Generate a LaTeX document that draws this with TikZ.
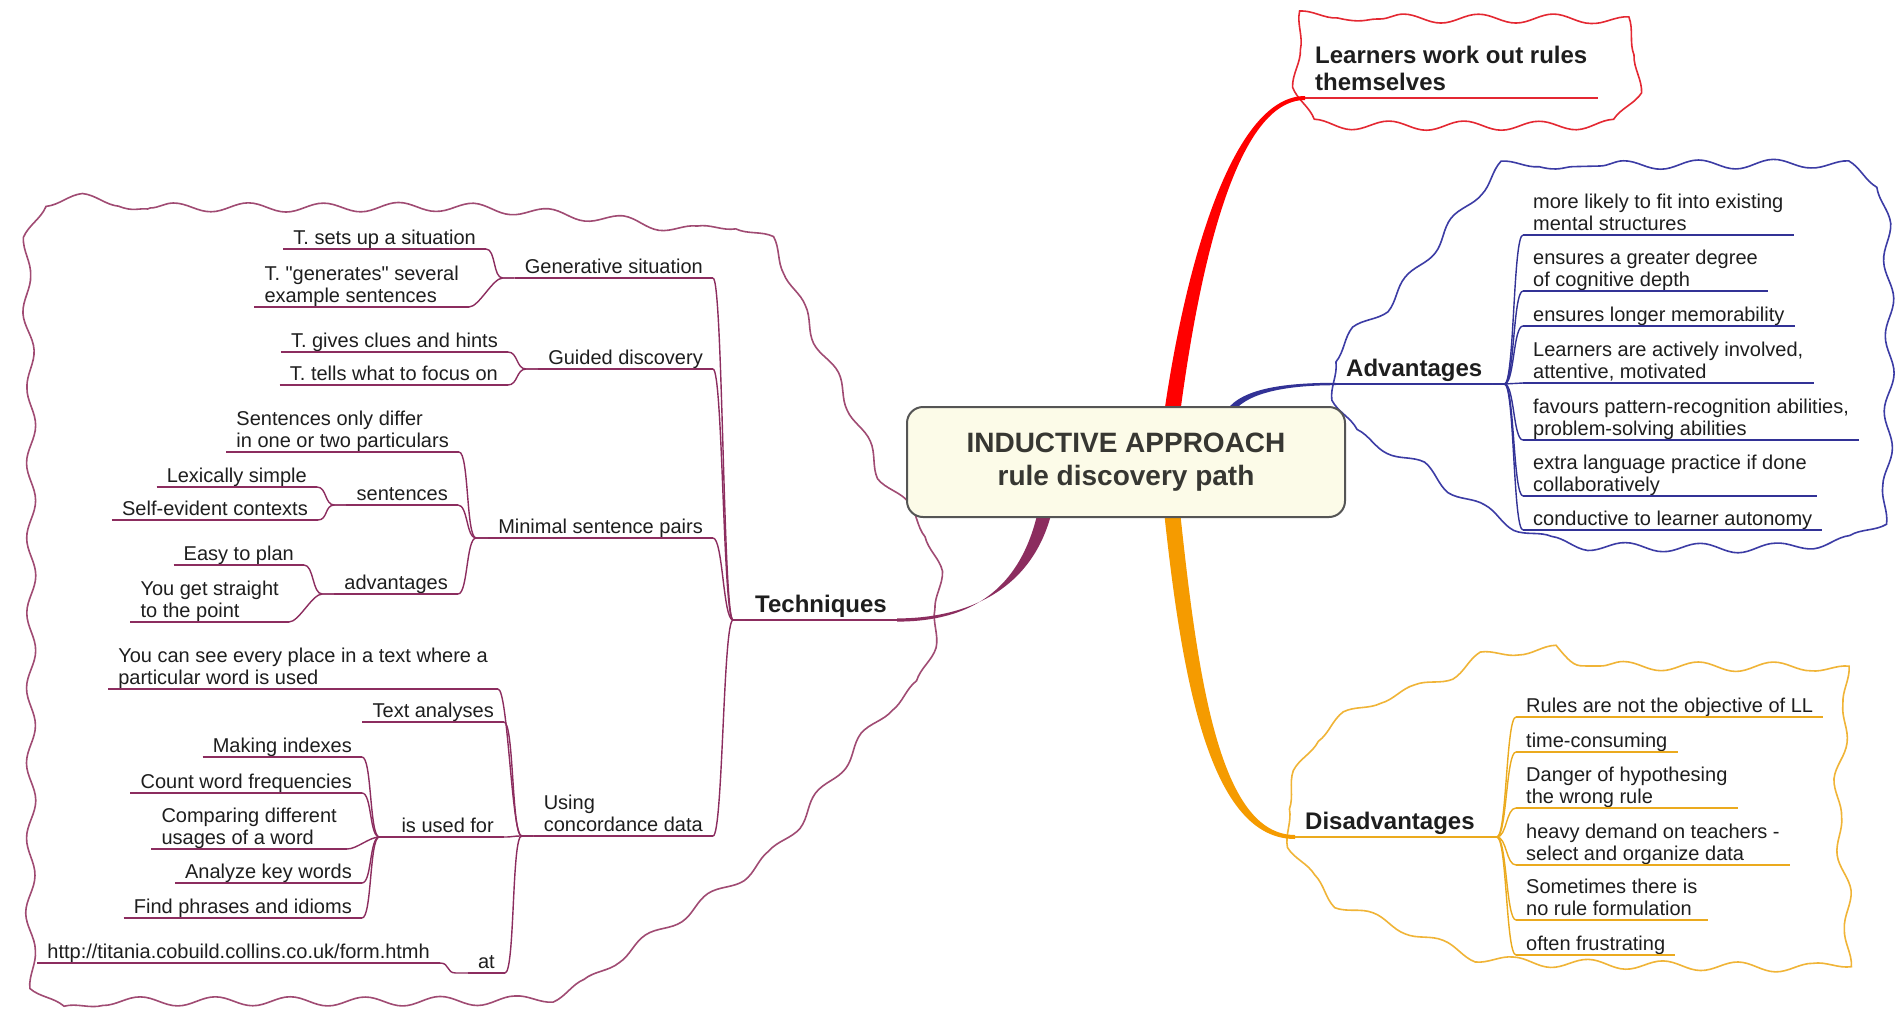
\documentclass[tikz,border=0pt]{standalone}
\usepackage{fontspec}
\setmainfont{Liberation Sans}
\newfontfamily\lsans{Liberation Sans}
\usetikzlibrary{calc,decorations.pathmorphing,backgrounds}
\definecolor{purp}{RGB}{140,45,95}
\definecolor{purpc}{RGB}{160,75,115}
\definecolor{bluel}{RGB}{50,50,150}
\definecolor{bluec}{RGB}{60,60,165}
\definecolor{orgb}{RGB}{245,155,0}
\definecolor{orgl}{RGB}{235,170,30}
\definecolor{orgc}{RGB}{240,180,55}
\definecolor{redb}{RGB}{255,0,0}
\definecolor{redc}{RGB}{228,40,50}
\definecolor{txt}{RGB}{30,30,30}
\definecolor{cream}{RGB}{252,251,232}
\definecolor{rootline}{RGB}{85,85,85}
\newcommand{\linkL}[3]{\draw[#3] (#1.south east) .. controls +(10,0) and +(-10,0) .. ([xshift=-12pt]#2.south west) -- (#2.south west);}
\newcommand{\linkR}[3]{\draw[#3] (#1.south east) -- ([xshift=12pt]#1.south east) .. controls +(10,0) and +(-10,0) .. (#2.south west);}
\begin{document}
\begin{tikzpicture}[x=1pt,y=-1pt,
  lf/.style={font=\lsans\fontsize{20}{21.5}\selectfont, text=txt, align=left, inner xsep=10pt, inner ysep=0pt, execute at end node={\rule[-4.5pt]{0pt}{4.5pt}}},
  lfL/.style={lf, anchor=south east},
  lfR/.style={lf, anchor=south west},
  bd/.style={font=\lsans\fontsize{24}{27}\selectfont\bfseries, text=txt, align=left, inner xsep=10pt, inner ysep=0pt, execute at end node={\rule[-7pt]{0pt}{7pt}}},
  rootst/.style={draw=rootline, fill=cream, rounded corners=16pt, line width=2pt, minimum width=438pt, minimum height=110pt, align=center, font=\lsans\fontsize{28}{33}\selectfont\bfseries, text={rgb,255:red,55;green,55;blue,50}},
  cloudst/.style={decorate, decoration={snake, amplitude=4.5pt, segment length=75pt}, line width=1.6pt},
  pl/.style={draw=purp, line width=1.4pt},
  bl/.style={draw=bluel, line width=1.4pt},
  ol/.style={draw=orgl, line width=1.4pt},
  rl/.style={draw=redc, line width=1.4pt}]
\useasboundingbox (0,0) rectangle (1898,1010);

% central node
\node[rootst] (root) at (1126,462) {INDUCTIVE APPROACH\\rule discovery path};

% red topic
\node[bd, anchor=south west] (lrn) at (1305,98) {Learners work out rules\\themselves};

% Techniques
\node[bd, anchor=south east] (tech) at (897,620) {Techniques};
\node[lfL] (gen) at (713,278) {Generative situation};
\node[lfL] (gen1) at (486,249) {T. sets up a situation};
\node[lfL] (gen2) at (469,307) {T. "generates" several\\example sentences};
\node[lfL] (gui) at (713,369) {Guided discovery};
\node[lfL] (gui1) at (508,352) {T. gives clues and hints};
\node[lfL] (gui2) at (508,385) {T. tells what to focus on};
\node[lfL] (min) at (713,538) {Minimal sentence pairs};
\node[lfL] (min1) at (459,452) {Sentences only differ\\in one or two particulars};
\node[lfL] (sen) at (458,505) {sentences};
\node[lfL] (sen1) at (317,487) {Lexically simple};
\node[lfL] (sen2) at (318,520) {Self-evident contexts};
\node[lfL] (adv) at (458,594) {advantages};
\node[lfL] (adv1) at (304,565) {Easy to plan};
\node[lfL] (adv2) at (289,622) {You get straight\\to the point};
\node[lfL] (use) at (713,836) {Using\\concordance data};
\node[lfL] (use1) at (498,689) {You can see every place in a text where a\\particular word is used};
\node[lfL] (use2) at (504,722) {Text analyses};
\node[lfL] (use3) at (504,837) {is used for};
\node[lfL] (use4) at (505,973) {at};
\node[lfL] (iuf1) at (362,757) {Making indexes};
\node[lfL] (iuf2) at (362,793) {Count word frequencies};
\node[lfL] (iuf3) at (347,849) {Comparing different\\usages of a word};
\node[lfL] (iuf4) at (362,883) {Analyze key words};
\node[lfL] (iuf5) at (362,918) {Find phrases and idioms};
\node[lfL] (at1) at (440,963) {http://titania.cobuild.collins.co.uk/form.htmh};

% Advantages
\node[bd, anchor=south west] (advs) at (1336,384) {Advantages};
\node[lfR] (a1) at (1523,235) {more likely to fit into existing\\mental structures};
\node[lfR] (a2) at (1523,291) {ensures a greater degree\\of cognitive depth};
\node[lfR] (a3) at (1523,326) {ensures longer memorability};
\node[lfR] (a4) at (1523,383) {Learners are actively involved,\\attentive, motivated};
\node[lfR] (a5) at (1523,440) {favours pattern-recognition abilities,\\problem-solving abilities};
\node[lfR] (a6) at (1523,496) {extra language practice if done\\collaboratively};
\node[lfR] (a7) at (1523,530) {conductive to learner autonomy};

% Disadvantages
\node[bd, anchor=south west] (dis) at (1295,837) {Disadvantages};
\node[lfR] (d1) at (1516,717) {Rules are not the objective of LL};
\node[lfR] (d2) at (1516,752) {time-consuming};
\node[lfR] (d3) at (1516,808) {Danger of hypothesing\\the wrong rule};
\node[lfR] (d4) at (1516,865) {heavy demand on teachers -\\select and organize data};
\node[lfR] (d5) at (1516,920) {Sometimes there is\\no rule formulation};
\node[lfR] (d6) at (1516,955) {often frustrating};

% connectors: Techniques
\linkL{gen}{tech}{pl} \linkL{gui}{tech}{pl} \linkL{min}{tech}{pl} \linkL{use}{tech}{pl}
\linkL{gen1}{gen}{pl} \linkL{gen2}{gen}{pl}
\linkL{gui1}{gui}{pl} \linkL{gui2}{gui}{pl}
\linkL{min1}{min}{pl} \linkL{sen}{min}{pl} \linkL{adv}{min}{pl}
\linkL{sen1}{sen}{pl} \linkL{sen2}{sen}{pl}
\linkL{adv1}{adv}{pl} \linkL{adv2}{adv}{pl}
\linkL{use1}{use}{pl} \linkL{use2}{use}{pl} \linkL{use3}{use}{pl} \linkL{use4}{use}{pl}
\linkL{iuf1}{use3}{pl} \linkL{iuf2}{use3}{pl} \linkL{iuf3}{use3}{pl} \linkL{iuf4}{use3}{pl} \linkL{iuf5}{use3}{pl}
\linkL{at1}{use4}{pl}
\foreach \n in {tech,gen,gen1,gen2,gui,gui1,gui2,min,min1,sen,sen1,sen2,adv,adv1,adv2,use,use1,use2,use3,use4,iuf1,iuf2,iuf3,iuf4,iuf5,at1}
  \draw[pl] (\n.south west) -- (\n.south east);

% connectors: Advantages
\foreach \n in {a1,a2,a3,a4,a5,a6,a7} {
  \linkR{advs}{\n}{bl}
  \draw[bl] (\n.south west) -- (\n.south east);
}
\draw[bl] (advs.south west) -- (advs.south east);

% connectors: Disadvantages
\foreach \n in {d1,d2,d3,d4,d5,d6} {
  \linkR{dis}{\n}{ol}
  \draw[ol] (\n.south west) -- (\n.south east);
}
\draw[ol] (dis.south west) -- (dis.south east);

% red underline
\draw[rl] (lrn.south west) -- (lrn.south east);

\begin{pgfonlayer}{background}
\fill[white] (0,0) rectangle (1898,1010);
% clouds
\draw[cloudst, draw=purpc] plot[smooth cycle, tension=0.5] coordinates {(22,214) (150,208) (300,208) (450,208) (597,220) (670,230) (720,226) (758,250) (788,320) (828,400) (866,483) (905,530) (918,600) (897,685) (860,716) (805,787) (751,853) (679,903) (609,949) (540,993) (400,998) (250,998) (100,998) (24,995) (18,800) (18,600) (18,400)};
\draw[cloudst, draw=bluec] plot[smooth cycle, tension=0.5] coordinates {(1495,172) (1600,166) (1720,165) (1825,166) (1860,190) (1868,300) (1867,420) (1856,530) (1770,550) (1660,551) (1540,546) (1451,505) (1393,462) (1337,434) (1314,379) (1337,340) (1375,308) (1420,252) (1465,196)};
\draw[cloudst, draw=orgc] plot[smooth cycle, tension=0.5] coordinates {(1501,667) (1600,666) (1720,667) (1822,670) (1835,710) (1828,770) (1826,827) (1835,900) (1836,960) (1820,980) (1720,980) (1600,978) (1501,975) (1455,968) (1386,940) (1318,913) (1285,873) (1269,832) (1299,757) (1354,720) (1419,700) (1455,677)};
\draw[cloudst, draw=redc] plot[smooth cycle, tension=0.5] coordinates {(1298,22) (1380,19) (1460,19) (1540,19) (1606,22) (1622,40) (1626,70) (1622,100) (1606,118) (1540,121) (1460,121) (1380,121) (1298,118) (1284,100) (1280,70) (1284,40)};
% thick branches
\fill[redb] ($(root.north)+(38,8)$) .. controls +(23,-160) and +(-70,0) .. ($(lrn.south west)+(0,-2)$) -- ($(lrn.south west)+(0,2)$) .. controls +(-66,0) and +(21,-160) .. ($(root.north)+(54,8)$) -- cycle;
\fill[orgb] ($(root.south)+(38,-7)$) .. controls +(18,170) and +(-85,0) .. ($(dis.south west)+(0,2)$) -- ($(dis.south west)+(0,-2)$) .. controls +(-75,0) and +(18,170) .. ($(root.south)+(54,-7)$) -- cycle;
\fill[purp] ($(root.south)+(-88,-7)$) .. controls +(-20,90) and +(60,0) .. ($(tech.south east)+(0,1.6)$) -- ($(tech.south east)+(0,-1.6)$) .. controls +(66,0) and +(-20,82) .. ($(root.south)+(-74,-7)$) -- cycle;
\fill[bluel] ($(root.north)+(100,5)$) .. controls +(16,-24) and +(-46,0) .. ($(advs.south west)+(0,-1.2)$) -- ($(advs.south west)+(0,1.2)$) .. controls +(-44,0) and +(16,-20) .. ($(root.north)+(108,5)$) -- cycle;
\end{pgfonlayer}
\end{tikzpicture}
\end{document}
